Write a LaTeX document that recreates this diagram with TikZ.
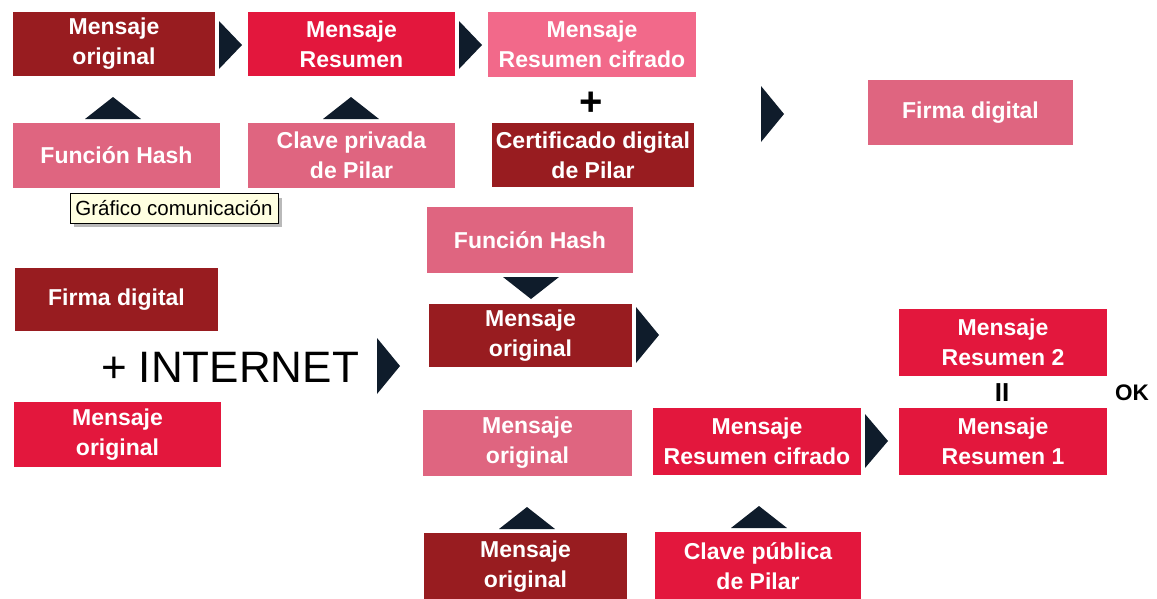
\documentclass[tikz,border=0pt]{standalone}
\usepackage{fontspec}
\setmainfont{Liberation Sans}
\definecolor{dred}{HTML}{981C20}
\definecolor{cred}{HTML}{E3173D}
\definecolor{cpink}{HTML}{DF6580}
\definecolor{lpink}{HTML}{F2698A}
\definecolor{navy}{HTML}{0F1C2B}
\definecolor{tipfill}{HTML}{FFFFE1}
\tikzset{
  box/.style={rectangle, inner sep=0pt, text=white, align=center,
    font=\fontsize{23}{30}\selectfont\bfseries},
  chev/.style={fill=navy, draw=none},
  sign/.style={inner sep=0pt, text=black}
}
% \bx{name}{x1}{y1}{x2}{y2}{colour}{text}
\newcommand\bx[7]{\node[box, fill=#6, minimum width=#4pt-#2pt, minimum height=#5pt-#3pt]
  (#1) at ({(#2+#4)/2},{(#3+#5)/2}) {#7};}
% right chevron: back x, centre y, half height
\newcommand\rchev[3]{\fill[chev] (#1,#2-#3) -- (#1+23,#2) -- (#1,#2+#3) -- cycle;}
% up / down chevron: apex x, apex y
\newcommand\uchev[2]{\fill[chev] (#1-28,#2+22) -- (#1,#2) -- (#1+28,#2+22) -- cycle;}
\newcommand\dchev[2]{\fill[chev] (#1-28,#2-22) -- (#1,#2) -- (#1+28,#2-22) -- cycle;}
\begin{document}
\begin{tikzpicture}[x=1pt,y=-1pt]
\useasboundingbox (0,0) rectangle (1157,598);
\fill[white] (0,0) rectangle (1157,598);

% ---- top section ----
\bx{b1}{13}{12}{215}{76}{dred}{Mensaje\\original}
\bx{b2}{248}{12}{455}{76}{cred}{Mensaje\\Resumen}
\bx{b3}{488}{12}{696}{77}{lpink}{Mensaje\\Resumen cifrado}
\bx{b4}{13}{123}{220}{188}{cpink}{Función Hash}
\bx{b5}{248}{123}{455}{188}{cpink}{Clave privada\\de Pilar}
\bx{b6}{492}{123}{694}{187}{dred}{Certificado digital\\de Pilar}
\bx{b7}{868}{80}{1073}{145}{cpink}{Firma digital}
\node[sign, font=\fontsize{40}{40}\selectfont\bfseries] (plus) at (591,104) {+};

\rchev{219}{45}{24}
\rchev{459}{45}{24}
\rchev{761}{114}{28}
\uchev{113}{97}
\uchev{351}{97}

% tooltip
\fill[gray!55] (74,198) rectangle (282,227);
\node[draw=black, line width=0.8pt, fill=tipfill, inner sep=0pt, minimum width=208pt,
  minimum height=30pt, font=\fontsize{20.5}{20.5}\selectfont, text=black] (tip) at (174,208) {Gráfico comunicación};

% ---- lower section ----
\bx{b8}{427}{207}{633}{273}{cpink}{Función Hash}
\bx{b9}{429}{304}{632}{367}{dred}{Mensaje\\original}
\bx{b10}{15}{268}{218}{331}{dred}{Firma digital}
\bx{b11}{14}{402}{221}{467}{cred}{Mensaje\\original}
\bx{b12}{423}{410}{632}{476}{cpink}{Mensaje\\original}
\bx{b13}{653}{408}{861}{475}{cred}{Mensaje\\Resumen cifrado}
\bx{b14}{899}{408}{1107}{475}{cred}{Mensaje\\Resumen 1}
\bx{b15}{899}{309}{1107}{376}{cred}{Mensaje\\Resumen 2}
\bx{b16}{424}{533}{627}{600}{dred}{Mensaje\\original}
\bx{b17}{655}{532}{861}{600}{cred}{Clave pública\\de Pilar}

\node[sign, anchor=base, font=\fontsize{44}{44}\selectfont] (net) at (230,382) {+ INTERNET};
\node[sign, font=\fontsize{26}{26}\selectfont\bfseries] (eq) at (1002,393) {II};
\node[sign, font=\fontsize{22.5}{22.5}\selectfont\bfseries] (ok) at (1132,393) {OK};

\dchev{531}{299}
\rchev{636}{335}{28}
\rchev{377}{366}{28}
\rchev{865}{441}{27}
\uchev{527}{507}
\uchev{759}{506}
\end{tikzpicture}
\end{document}
